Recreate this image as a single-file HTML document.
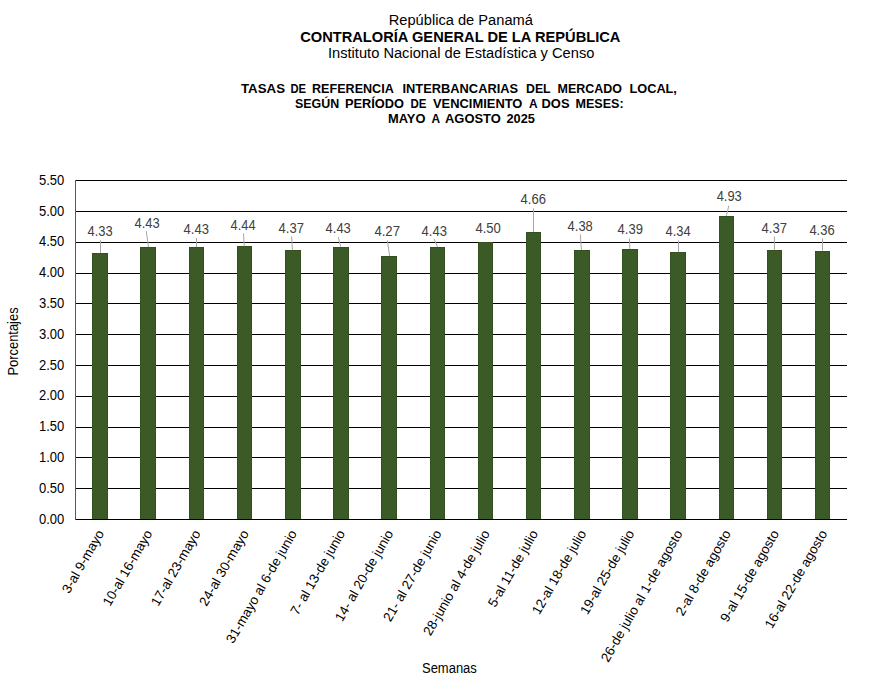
<!DOCTYPE html><html><head><meta charset="utf-8"><style>html,body{margin:0;padding:0;background:#fff;width:884px;height:676px;overflow:hidden;position:relative}
text{font-family:"Liberation Sans",sans-serif}
.ax{font-size:14px;fill:#000}
.dl{font-size:14px;fill:#404040}
.cat{font-size:13.33px;fill:#000}
.tt{font-size:14px;fill:#000}
.h1{font-size:14.67px;fill:#000}
.h2{font-size:14.67px;font-weight:bold;fill:#000}
.t{font-size:13.25px;font-weight:bold;fill:#000}
</style></head><body><svg width="884" height="676" viewBox="0 0 884 676" style="position:absolute;left:0;top:0">
<rect x="75" y="519" width="772" height="1" fill="#000"/>
<rect x="75" y="488" width="772" height="1" fill="#000"/>
<rect x="75" y="457" width="772" height="1" fill="#000"/>
<rect x="75" y="427" width="772" height="1" fill="#000"/>
<rect x="75" y="396" width="772" height="1" fill="#000"/>
<rect x="75" y="365" width="772" height="1" fill="#000"/>
<rect x="75" y="334" width="772" height="1" fill="#000"/>
<rect x="75" y="303" width="772" height="1" fill="#000"/>
<rect x="75" y="273" width="772" height="1" fill="#000"/>
<rect x="75" y="242" width="772" height="1" fill="#000"/>
<rect x="75" y="211" width="772" height="1" fill="#000"/>
<rect x="75" y="180" width="772" height="1" fill="#000"/>
<rect x="75" y="180" width="1" height="340" fill="#5a5a5a"/>
<text x="39.0" y="523.90" textLength="25.3" lengthAdjust="spacingAndGlyphs" class="ax">0.00</text>
<text x="39.0" y="492.90" textLength="25.3" lengthAdjust="spacingAndGlyphs" class="ax">0.50</text>
<text x="39.0" y="461.90" textLength="25.3" lengthAdjust="spacingAndGlyphs" class="ax">1.00</text>
<text x="39.0" y="430.90" textLength="25.3" lengthAdjust="spacingAndGlyphs" class="ax">1.50</text>
<text x="39.0" y="399.90" textLength="25.3" lengthAdjust="spacingAndGlyphs" class="ax">2.00</text>
<text x="39.0" y="369.90" textLength="25.3" lengthAdjust="spacingAndGlyphs" class="ax">2.50</text>
<text x="39.0" y="338.90" textLength="25.3" lengthAdjust="spacingAndGlyphs" class="ax">3.00</text>
<text x="39.0" y="307.90" textLength="25.3" lengthAdjust="spacingAndGlyphs" class="ax">3.50</text>
<text x="39.0" y="276.90" textLength="25.3" lengthAdjust="spacingAndGlyphs" class="ax">4.00</text>
<text x="39.0" y="245.90" textLength="25.3" lengthAdjust="spacingAndGlyphs" class="ax">4.50</text>
<text x="39.0" y="215.90" textLength="25.3" lengthAdjust="spacingAndGlyphs" class="ax">5.00</text>
<text x="39.0" y="184.90" textLength="25.3" lengthAdjust="spacingAndGlyphs" class="ax">5.50</text>
<rect x="92" y="253" width="16" height="266" fill="#344f20"/>
<rect x="93" y="254" width="14" height="265" fill="#3c5a25"/>
<rect x="140" y="247" width="16" height="272" fill="#344f20"/>
<rect x="141" y="248" width="14" height="271" fill="#3c5a25"/>
<rect x="189" y="247" width="15" height="272" fill="#344f20"/>
<rect x="190" y="248" width="13" height="271" fill="#3c5a25"/>
<rect x="237" y="246" width="15" height="273" fill="#344f20"/>
<rect x="238" y="247" width="13" height="272" fill="#3c5a25"/>
<rect x="285" y="250" width="16" height="269" fill="#344f20"/>
<rect x="286" y="251" width="14" height="268" fill="#3c5a25"/>
<rect x="333" y="247" width="16" height="272" fill="#344f20"/>
<rect x="334" y="248" width="14" height="271" fill="#3c5a25"/>
<rect x="381" y="256" width="16" height="263" fill="#344f20"/>
<rect x="382" y="257" width="14" height="262" fill="#3c5a25"/>
<rect x="430" y="247" width="15" height="272" fill="#344f20"/>
<rect x="431" y="248" width="13" height="271" fill="#3c5a25"/>
<rect x="478" y="242" width="15" height="277" fill="#344f20"/>
<rect x="479" y="243" width="13" height="276" fill="#3c5a25"/>
<rect x="526" y="232" width="15" height="287" fill="#344f20"/>
<rect x="527" y="233" width="13" height="286" fill="#3c5a25"/>
<rect x="574" y="250" width="16" height="269" fill="#344f20"/>
<rect x="575" y="251" width="14" height="268" fill="#3c5a25"/>
<rect x="622" y="249" width="16" height="270" fill="#344f20"/>
<rect x="623" y="250" width="14" height="269" fill="#3c5a25"/>
<rect x="670" y="252" width="16" height="267" fill="#344f20"/>
<rect x="671" y="253" width="14" height="266" fill="#3c5a25"/>
<rect x="719" y="216" width="15" height="303" fill="#344f20"/>
<rect x="720" y="217" width="13" height="302" fill="#3c5a25"/>
<rect x="767" y="250" width="15" height="269" fill="#344f20"/>
<rect x="768" y="251" width="13" height="268" fill="#3c5a25"/>
<rect x="815" y="251" width="15" height="268" fill="#344f20"/>
<rect x="816" y="252" width="13" height="267" fill="#3c5a25"/>
<line x1="100.50" y1="240.30" x2="100.50" y2="253.10" stroke="#a6a6a6" stroke-width="1"/>
<text x="87.50" y="235.80" textLength="25.20" lengthAdjust="spacingAndGlyphs" class="dl">4.33</text>
<line x1="146.30" y1="231.20" x2="148.50" y2="247.10" stroke="#a6a6a6" stroke-width="1"/>
<text x="134.50" y="227.60" textLength="25.20" lengthAdjust="spacingAndGlyphs" class="dl">4.43</text>
<line x1="196.50" y1="238.00" x2="196.50" y2="247.10" stroke="#a6a6a6" stroke-width="1"/>
<text x="183.60" y="233.80" textLength="25.30" lengthAdjust="spacingAndGlyphs" class="dl">4.43</text>
<line x1="243.50" y1="233.30" x2="244.30" y2="246.30" stroke="#a6a6a6" stroke-width="1"/>
<text x="230.60" y="229.90" textLength="24.90" lengthAdjust="spacingAndGlyphs" class="dl">4.44</text>
<line x1="291.60" y1="236.40" x2="292.40" y2="250.20" stroke="#a6a6a6" stroke-width="1"/>
<text x="278.60" y="232.70" textLength="25.30" lengthAdjust="spacingAndGlyphs" class="dl">4.37</text>
<line x1="338.30" y1="237.20" x2="340.60" y2="246.60" stroke="#a6a6a6" stroke-width="1"/>
<text x="325.60" y="232.70" textLength="25.20" lengthAdjust="spacingAndGlyphs" class="dl">4.43</text>
<line x1="387.40" y1="240.30" x2="389.60" y2="256.10" stroke="#a6a6a6" stroke-width="1"/>
<text x="374.40" y="235.80" textLength="25.60" lengthAdjust="spacingAndGlyphs" class="dl">4.27</text>
<line x1="434.10" y1="238.90" x2="437.50" y2="246.90" stroke="#a6a6a6" stroke-width="1"/>
<text x="421.50" y="235.80" textLength="25.40" lengthAdjust="spacingAndGlyphs" class="dl">4.43</text>
<text x="475.40" y="233.10" textLength="25.50" lengthAdjust="spacingAndGlyphs" class="dl">4.50</text>
<line x1="533.50" y1="208.30" x2="533.50" y2="232.10" stroke="#a6a6a6" stroke-width="1"/>
<text x="520.50" y="204.00" textLength="25.40" lengthAdjust="spacingAndGlyphs" class="dl">4.66</text>
<line x1="580.30" y1="234.40" x2="581.40" y2="250.00" stroke="#a6a6a6" stroke-width="1"/>
<text x="567.60" y="231.00" textLength="25.20" lengthAdjust="spacingAndGlyphs" class="dl">4.38</text>
<line x1="629.50" y1="238.40" x2="629.80" y2="249.10" stroke="#a6a6a6" stroke-width="1"/>
<text x="617.60" y="233.80" textLength="25.30" lengthAdjust="spacingAndGlyphs" class="dl">4.39</text>
<line x1="678.50" y1="240.40" x2="678.50" y2="252.20" stroke="#a6a6a6" stroke-width="1"/>
<text x="665.60" y="235.90" textLength="25.10" lengthAdjust="spacingAndGlyphs" class="dl">4.34</text>
<line x1="728.80" y1="205.70" x2="726.40" y2="215.90" stroke="#a6a6a6" stroke-width="1"/>
<text x="716.70" y="200.70" textLength="25.10" lengthAdjust="spacingAndGlyphs" class="dl">4.93</text>
<line x1="774.40" y1="236.40" x2="774.40" y2="250.20" stroke="#a6a6a6" stroke-width="1"/>
<text x="761.50" y="232.70" textLength="25.50" lengthAdjust="spacingAndGlyphs" class="dl">4.37</text>
<line x1="822.50" y1="238.50" x2="822.50" y2="250.60" stroke="#a6a6a6" stroke-width="1"/>
<text x="809.40" y="234.80" textLength="25.30" lengthAdjust="spacingAndGlyphs" class="dl">4.36</text>
<text transform="translate(100.60,531.00) rotate(-60)" x="0" y="0" text-anchor="end" dominant-baseline="central" class="cat">3-al 9-mayo</text>
<text transform="translate(148.81,531.00) rotate(-60)" x="0" y="0" text-anchor="end" dominant-baseline="central" class="cat">10-al 16-mayo</text>
<text transform="translate(197.02,531.00) rotate(-60)" x="0" y="0" text-anchor="end" dominant-baseline="central" class="cat">17-al 23-mayo</text>
<text transform="translate(245.23,531.00) rotate(-60)" x="0" y="0" text-anchor="end" dominant-baseline="central" class="cat">24-al 30-mayo</text>
<text transform="translate(293.44,531.00) rotate(-60)" x="0" y="0" text-anchor="end" dominant-baseline="central" class="cat">31-mayo al 6-de junio</text>
<text transform="translate(341.65,531.00) rotate(-60)" x="0" y="0" text-anchor="end" dominant-baseline="central" class="cat">7- al 13-de junio</text>
<text transform="translate(389.86,531.00) rotate(-60)" x="0" y="0" text-anchor="end" dominant-baseline="central" class="cat">14- al 20-de junio</text>
<text transform="translate(438.07,531.00) rotate(-60)" x="0" y="0" text-anchor="end" dominant-baseline="central" class="cat">21- al 27-de junio</text>
<text transform="translate(486.28,531.00) rotate(-60)" x="0" y="0" text-anchor="end" dominant-baseline="central" class="cat">28-junio al 4-de julio</text>
<text transform="translate(534.49,531.00) rotate(-60)" x="0" y="0" text-anchor="end" dominant-baseline="central" class="cat">5-al 11-de julio</text>
<text transform="translate(582.70,531.00) rotate(-60)" x="0" y="0" text-anchor="end" dominant-baseline="central" class="cat">12-al 18-de julio</text>
<text transform="translate(630.91,531.00) rotate(-60)" x="0" y="0" text-anchor="end" dominant-baseline="central" class="cat">19-al 25-de julio</text>
<text transform="translate(679.12,531.00) rotate(-60)" x="0" y="0" text-anchor="end" dominant-baseline="central" class="cat">26-de julio al 1-de agosto</text>
<text transform="translate(727.33,531.00) rotate(-60)" x="0" y="0" text-anchor="end" dominant-baseline="central" class="cat">2-al 8-de agosto</text>
<text transform="translate(775.54,531.00) rotate(-60)" x="0" y="0" text-anchor="end" dominant-baseline="central" class="cat">9-al 15-de agosto</text>
<text transform="translate(823.75,531.00) rotate(-60)" x="0" y="0" text-anchor="end" dominant-baseline="central" class="cat">16-al 22-de agosto</text>
<text transform="translate(18.3,375.6) rotate(-90)" x="0" y="0" textLength="68.2" lengthAdjust="spacingAndGlyphs" class="tt">Porcentajes</text>
<text x="422.0" y="672.7" textLength="54.8" lengthAdjust="spacingAndGlyphs" class="tt">Semanas</text>
<text x="460.8" y="25.2" text-anchor="middle" class="h1">República de Panamá</text>
<text x="460.3" y="41.5" text-anchor="middle" class="h2">CONTRALORÍA GENERAL DE LA REPÚBLICA</text>
<text x="461.2" y="57.9" text-anchor="middle" class="h1">Instituto Nacional de Estadística y Censo</text>
<text x="241.00" y="92.8" textLength="44.00" lengthAdjust="spacingAndGlyphs" class="t">TASAS</text>
<text x="290.50" y="92.8" textLength="15.60" lengthAdjust="spacingAndGlyphs" class="t">DE</text>
<text x="312.00" y="92.8" textLength="81.80" lengthAdjust="spacingAndGlyphs" class="t">REFERENCIA</text>
<text x="402.50" y="92.8" textLength="115.60" lengthAdjust="spacingAndGlyphs" class="t">INTERBANCARIAS</text>
<text x="526.00" y="92.8" textLength="24.60" lengthAdjust="spacingAndGlyphs" class="t">DEL</text>
<text x="557.50" y="92.8" textLength="64.40" lengthAdjust="spacingAndGlyphs" class="t">MERCADO</text>
<text x="629.50" y="92.8" textLength="47.40" lengthAdjust="spacingAndGlyphs" class="t">LOCAL,</text>
<text x="295.00" y="107.9" textLength="44.20" lengthAdjust="spacingAndGlyphs" class="t">SEGÚN</text>
<text x="345.00" y="107.9" textLength="59.00" lengthAdjust="spacingAndGlyphs" class="t">PERÍODO</text>
<text x="410.50" y="107.9" textLength="16.00" lengthAdjust="spacingAndGlyphs" class="t">DE</text>
<text x="433.00" y="107.9" textLength="89.40" lengthAdjust="spacingAndGlyphs" class="t">VENCIMIENTO</text>
<text x="529.00" y="107.9" textLength="8.60" lengthAdjust="spacingAndGlyphs" class="t">A</text>
<text x="541.50" y="107.9" textLength="28.00" lengthAdjust="spacingAndGlyphs" class="t">DOS</text>
<text x="575.50" y="107.9" textLength="48.20" lengthAdjust="spacingAndGlyphs" class="t">MESES:</text>
<text x="388.00" y="122.7" textLength="37.40" lengthAdjust="spacingAndGlyphs" class="t">MAYO</text>
<text x="431.50" y="122.7" textLength="8.60" lengthAdjust="spacingAndGlyphs" class="t">A</text>
<text x="445.00" y="122.7" textLength="55.80" lengthAdjust="spacingAndGlyphs" class="t">AGOSTO</text>
<text x="506.50" y="122.7" textLength="28.40" lengthAdjust="spacingAndGlyphs" class="t">2025</text>
</svg></body></html>
